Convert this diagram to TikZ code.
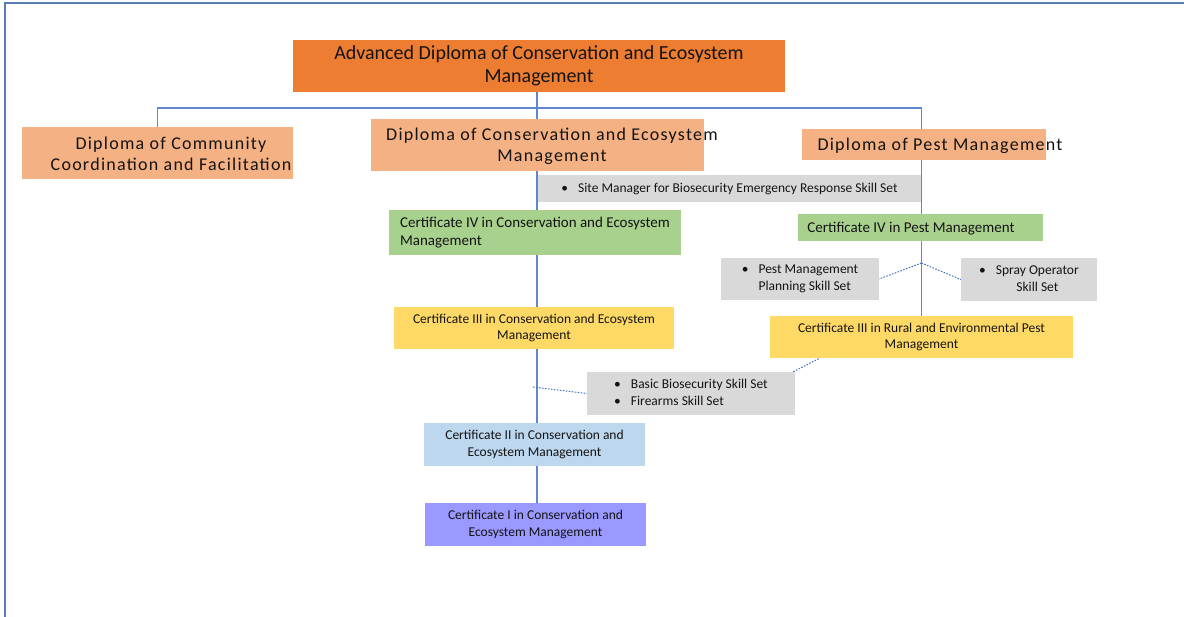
\documentclass[tikz,border=0pt]{standalone}
\usepackage{fontspec}
\setmainfont{Carlito}
\newfontfamily\widefont[LetterSpace=7]{Carlito}
\usetikzlibrary{backgrounds}

\definecolor{advorange}{HTML}{ED7D31}
\definecolor{dippeach}{HTML}{F4B183}
\definecolor{skillgray}{HTML}{D9D9D9}
\definecolor{certgreen}{HTML}{A9D18E}
\definecolor{certyellow}{HTML}{FFD966}
\definecolor{certblue}{HTML}{BDD7EE}
\definecolor{certpurple}{HTML}{9999FF}
\definecolor{linkblue}{HTML}{4472C4}
\definecolor{frameblue}{HTML}{5B7BB3}
\definecolor{inktext}{HTML}{141414}

\tikzset{
    box/.style={rectangle, inner sep=0pt, text=inktext},
    advbox/.style={box, fill=advorange, font=\fontsize{20}{23.5}\selectfont, align=center},
    dipbox/.style={box, fill=dippeach},
    diptext/.style={inner sep=0pt, text=inktext, font=\widefont\fontsize{18}{21}\selectfont, align=center},
    skillbox/.style={box, fill=skillgray, font=\fontsize{13.5}{17}\selectfont},
    certbox/.style={box, font=\fontsize{13.5}{16.5}\selectfont, align=center},
    bigcert/.style={font=\fontsize{15}{18}\selectfont},
    conn/.style={draw=linkblue!85, line width=1.2pt},
    dotlink/.style={draw=linkblue, line width=1pt, dash pattern=on 1.6pt off 1.4pt},
    frame/.style={draw=frameblue, line width=2pt}
}

\begin{document}
\begin{tikzpicture}[x=1pt, y=-1pt]
    \useasboundingbox (0,0) rectangle (1184,617);
    \draw[frame] (5,617) -- (5,3.5) -- (1184,3.5);

    \node[advbox, minimum width=492, minimum height=52] (adv) at (539,66)
        {Advanced Diploma of Conservation and Ecosystem\\Management};

    \node[dipbox, minimum width=271, minimum height=52] (dcc) at (157.5,153) {};
    \node[diptext] (dcc-t) at (171,154) {Diploma of Community\\Coordination and Facilitation};
    \node[dipbox, minimum width=333, minimum height=52] (dce) at (537.5,145) {};
    \node[diptext] (dce-t) at (552,146) {Diploma of Conservation and Ecosystem\\Management};
    \node[dipbox, minimum width=244, minimum height=31] (dpm) at (924,144.5) {};
    \node[diptext] (dpm-t) at (940,145.5) {Diploma of Pest Management};

    \node[skillbox, minimum width=383, minimum height=27] (site) at (729.5,188.5)
        {\textbullet\hspace{10pt}Site Manager for Biosecurity Emergency Response Skill Set};

    \node[certbox, bigcert, fill=certgreen, minimum width=292, minimum height=45, align=left] (c4ce) at (535,232.5)
        {Certificate IV in Conservation and Ecosystem\\Management};
    \node[certbox, fill=certgreen, minimum width=245, minimum height=27] (c4pm) at (920.5,227.5) {};
    \node[inner sep=0pt, text=inktext, bigcert] (c4pm-t) at (911,229)
        {Certificate IV in Pest Management};

    \node[skillbox, minimum width=158, minimum height=42] (pmp) at (800,279)
        {\begin{tabular}{@{}l@{\hspace{10pt}}l@{}}\textbullet & Pest Management\\ & Planning Skill Set\end{tabular}};
    \node[skillbox, minimum width=136, minimum height=43] (spray) at (1029,279.5)
        {\begin{tabular}{@{}c@{\hspace{10pt}}c@{}}\textbullet & Spray Operator\\ & Skill Set\end{tabular}};

    \node[certbox, fill=certyellow, minimum width=280, minimum height=42] (c3ce) at (534,328)
        {Certificate III in Conservation and Ecosystem\\Management};
    \node[certbox, fill=certyellow, minimum width=303, minimum height=42] (c3rp) at (921.5,337)
        {Certificate III in Rural and Environmental Pest\\Management};

    \node[skillbox, minimum width=208, minimum height=43] (bio) at (691,393.5)
        {\begin{tabular}{@{}l@{\hspace{10pt}}l@{}}\textbullet & Basic Biosecurity Skill Set\\ \textbullet & Firearms Skill Set\end{tabular}};

    \node[certbox, fill=certblue, minimum width=221, minimum height=43] (c2) at (534.5,444.5)
        {Certificate II in Conservation and\\Ecosystem Management};
    \node[certbox, fill=certpurple, minimum width=221, minimum height=43] (c1) at (535.5,524.5)
        {Certificate I in Conservation and\\Ecosystem Management};

    \coordinate (hub) at (537,108);
    \coordinate (pj) at (921.5,263);
    \coordinate (bj) at (533,387);
    \coordinate (rj) at (820,358);

    \begin{scope}[on background layer]
        \draw[conn] (hub |- adv.south) -- (hub |- c1.north);
        \draw[conn] (dcc.north) |- (hub) -| (c3rp.north);
    \end{scope}
    \draw[dotlink] (pj) -- (pmp.east);
    \draw[dotlink] (pj) -- (spray.west);
    \draw[dotlink] (bj) -- (bio.west);
    \draw[dotlink] ([xshift=-2]bio.north east) -- (rj);
\end{tikzpicture}
\end{document}
